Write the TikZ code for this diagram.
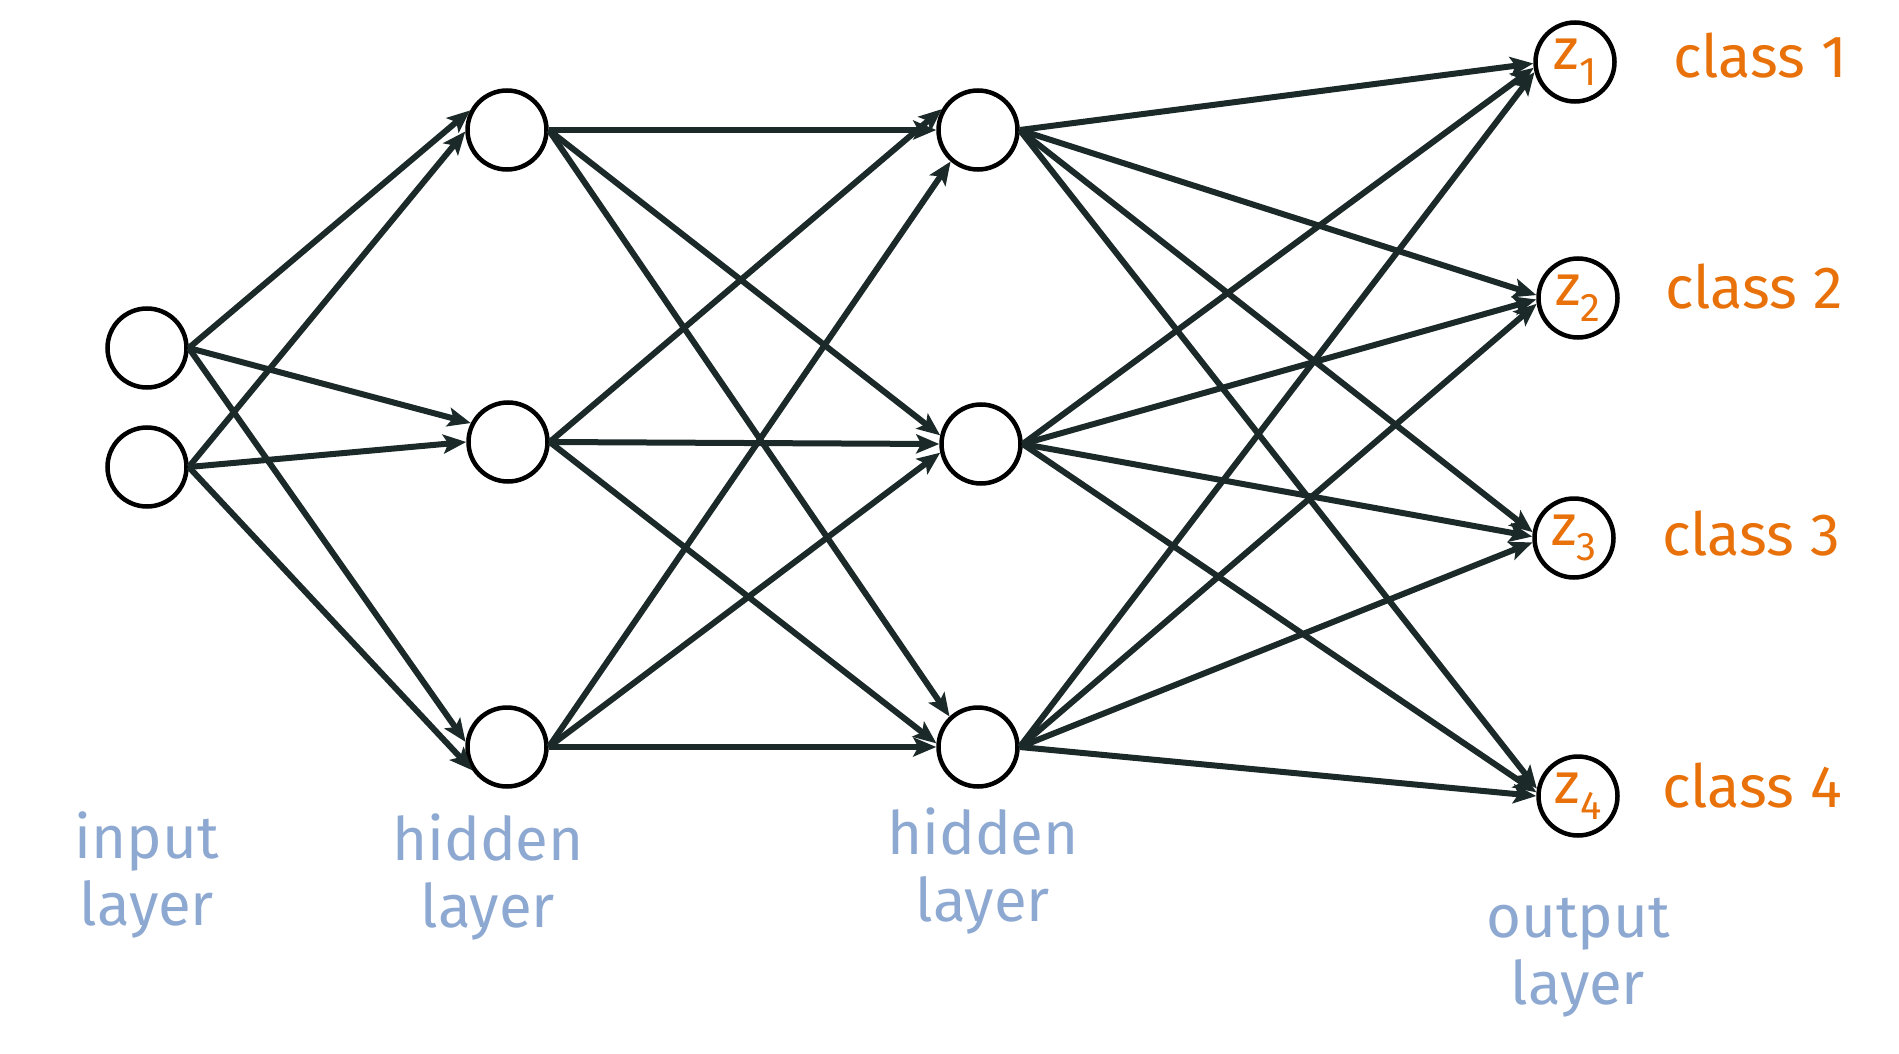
\documentclass[tikz,border=0pt]{standalone}
\usepackage{fontspec}
\setmainfont{Fira Sans}
\usetikzlibrary{arrows.meta}
\definecolor{edgec}{HTML}{1C2929}
\definecolor{orng}{HTML}{E8710A}
\definecolor{lblue}{HTML}{8EA9D1}
\newcommand{\zlab}[1]{{\fontsize{58}{60}\selectfont z\raisebox{-0.27em}{\fontsize{40}{40}\selectfont #1}}}
\begin{document}
\begin{tikzpicture}[x=1pt,y=-1pt,
  neuron/.style={circle,draw=black,line width=4.5pt,minimum size=79pt,inner sep=0pt},
  outn/.style={neuron,text=orng},
  conn/.style={draw=edgec,line width=6pt,-{Stealth[length=23pt,width=19pt,inset=5pt]}},
  layerlab/.style={text=lblue,font=\fontsize{60}{67}\selectfont,align=center,inner sep=0pt,anchor=base},
  classlab/.style={text=orng,font=\fontsize{59.5}{70}\selectfont,inner sep=0pt,anchor=base west}]
\useasboundingbox (0,0) rectangle (1899,1054);
% input layer
\node[neuron] (i1) at (147,348) {};
\node[neuron] (i2) at (147,467) {};
% hidden layer 1
\node[neuron] (h1) at (507,130) {};
\node[neuron] (h2) at (508,442) {};
\node[neuron] (h3) at (507,747) {};
% hidden layer 2
\node[neuron] (g1) at (978,130) {};
\node[neuron] (g2) at (981,444) {};
\node[neuron] (g3) at (978,747) {};
% output layer
\node[outn] (o1) at (1575,62) {\zlab{1}};
\node[outn] (o2) at (1578,298) {\zlab{2}};
\node[outn] (o3) at (1574,538) {\zlab{3}};
\node[outn] (o4) at (1578,796) {\zlab{4}};
% input -> hidden 1
\draw[conn] (i1.east) -- (h1.152);
\draw[conn] (i1.east) -- (h2.153);
\draw[conn] (i1.east) -- (h3.173);
\draw[conn] (i2.east) -- (h1.182);
\draw[conn] (i2.east) -- (h2.180);
\draw[conn] (i2.east) -- (h3.214);
% hidden 1 -> hidden 2
\draw[conn] (h1.east) -- (g1.180);
\draw[conn] (h1.east) -- (g2.168);
\draw[conn] (h1.east) -- (g3.133);
\draw[conn] (h2.east) -- (g1.150);
\draw[conn] (h2.east) -- (g2.180);
\draw[conn] (h2.east) -- (g3.175);
\draw[conn] (h3.east) -- (g1.229);
\draw[conn] (h3.east) -- (g2.192);
\draw[conn] (h3.east) -- (g3.180);
% hidden 2 -> output
\draw[conn] (g1.east) -- (o1.182);
\draw[conn] (g2.east) -- (o1.188);
\draw[conn] (g3.east) -- (o1.194);
\draw[conn] (g1.east) -- (o2.176);
\draw[conn] (g2.east) -- (o2.182);
\draw[conn] (g3.east) -- (o2.188);
\draw[conn] (g1.east) -- (o3.172);
\draw[conn] (g2.east) -- (o3.178);
\draw[conn] (g3.east) -- (o3.186);
\draw[conn] (g1.east) -- (o4.170);
\draw[conn] (g2.east) -- (o4.175);
\draw[conn] (g3.east) -- (o4.180);
% class labels
\node[classlab] (c1) at (1673,78) {class 1};
\node[classlab] (c2) at (1665,308) {class 2};
\node[classlab] (c3) at (1662,555) {class 3};
\node[classlab] (c4) at (1662,807) {class 4};
% layer labels (anchor = baseline of the last line)
\node[layerlab] (li) at (147,925) {input\\layer};
\node[layerlab] (lh1) at (488,927) {hidden\\layer};
\node[layerlab] (lh2) at (983,921) {hidden\\layer};
\node[layerlab] (lo) at (1578,1004) {output\\layer};
\end{tikzpicture}
\end{document}
